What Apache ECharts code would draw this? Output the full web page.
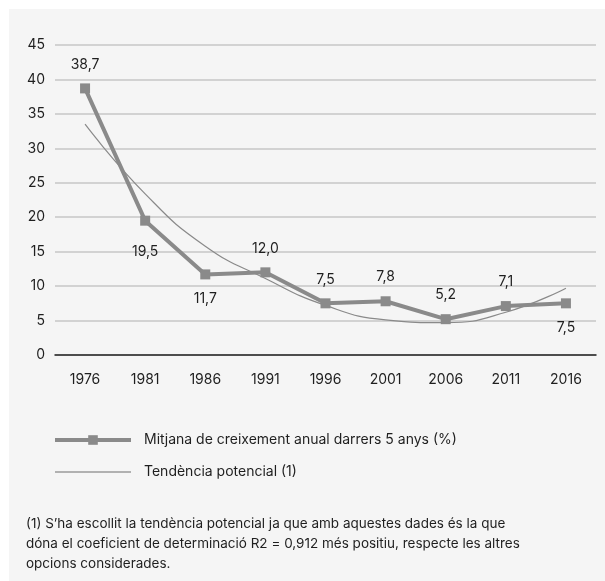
<!DOCTYPE html>
<html>
<head>
<meta charset="utf-8">
<script src="https://cdn.jsdelivr.net/npm/echarts@6/dist/echarts.min.js"></script>
<style>
  html, body { margin: 0; padding: 0; background: #ffffff; }
  #chart { width: 605px; height: 581px; }
</style>
</head>
<body>
<div id="chart"></div>
<script>
// Five-year periods
const years = ['1976', '1981', '1986', '1991', '1996', '2001', '2006', '2011', '2016'];
// Average annual growth over the previous five years (%)
const growth = [38.7, 19.5, 11.7, 12.0, 7.5, 7.8, 5.2, 7.1, 7.5];
// Fitted trend curve at each period
const trend = [33.5, 23.4, 15.8, 11.1, 7.2, 5.1, 4.7, 6.2, 9.7];
// Y axis ticks
const yTicks = [0, 5, 10, 15, 20, 25, 30, 35, 40, 45];

const seriesName = 'Mitjana de creixement anual darrers 5 anys (%)';
const trendName = 'Tendència potencial (1)';
const footnote = "(1) S’ha escollit la tendència potencial ja que amb aquestes dades és la que\n" +
  "dóna el coeficient de determinació R2 = 0,912 més positiu, respecte les altres\n" +
  "opcions considerades.";

// Which side of each marker its value label sits on
const labelBelow = [false, true, true, false, false, false, false, false, true];

const FONT = 'Inter, "Noto Sans", sans-serif';
const TEXT = '#1f1f1f';
const GREY = '#8a8a8a';

const fmt = v => v.toFixed(1).replace('.', ',');

const chart = echarts.init(document.getElementById('chart'), null, { renderer: 'canvas' });

chart.setOption({
  backgroundColor: '#ffffff',
  animation: false,
  textStyle: { fontFamily: FONT },
  graphic: [
    {
      type: 'rect', z: -10, silent: true,
      shape: { x: 9, y: 9, width: 596, height: 572 },
      style: { fill: '#f5f5f5' }
    },
    {
      type: 'text', left: 26, top: 514, silent: true,
      style: {
        text: footnote, fill: TEXT, font: '13.5px ' + FONT, lineHeight: 20
      }
    }
  ],
  grid: { left: 55, right: 9, top: 45, bottom: 226, containLabel: false },
  legend: {
    orient: 'vertical',
    left: 48, top: 428,
    itemWidth: 76, itemHeight: 12, itemGap: 18,
    textStyle: { color: TEXT, fontSize: 14, fontFamily: FONT, padding: [0, 0, 0, 8] },
    data: [
      {
        name: seriesName,
        lineStyle: { color: GREY, width: 4 },
        itemStyle: { color: GREY }
      },
      {
        name: trendName,
        lineStyle: { color: '#9a9a9a', width: 1.5 },
        itemStyle: { opacity: 0 }
      }
    ]
  },
  xAxis: {
    type: 'category',
    data: years,
    boundaryGap: true,
    axisLine: { lineStyle: { color: '#222222', width: 1.5 } },
    axisTick: { show: false },
    axisLabel: { color: TEXT, fontSize: 14, margin: 18, fontFamily: FONT }
  },
  yAxis: {
    type: 'value',
    min: yTicks[0], max: yTicks[yTicks.length - 1], interval: yTicks[1] - yTicks[0],
    axisLine: { show: false },
    axisTick: { show: false },
    splitLine: { lineStyle: { color: '#c6c6c6', width: 1.5 } },
    axisLabel: { color: TEXT, fontSize: 14, margin: 10, fontFamily: FONT }
  },
  series: [
    {
      name: trendName,
      type: 'line',
      data: trend,
      smooth: 0.5,
      symbol: 'none',
      lineStyle: { color: GREY, width: 1.2 },
      itemStyle: { color: GREY },
      z: 2
    },
    {
      name: seriesName,
      type: 'line',
      data: growth.map((v, i) => ({
        value: v,
        label: {
          position: labelBelow[i] ? 'bottom' : 'top',
          // the first label below the steep drop sits a little lower to clear the line
          distance: i === 1 ? 19 : 12
        }
      })),
      symbol: 'rect',
      symbolSize: 10,
      lineStyle: { color: GREY, width: 4 },
      itemStyle: { color: GREY },
      label: {
        show: true,
        distance: 12,
        color: TEXT,
        fontSize: 14,
        fontFamily: FONT,
        formatter: p => fmt(p.value)
      },
      z: 3
    }
  ]
});
</script>
</body>
</html>
